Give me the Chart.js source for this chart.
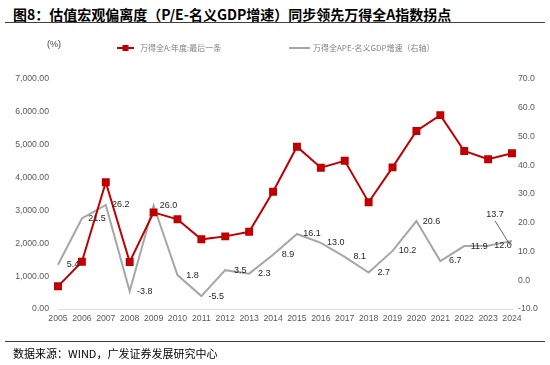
<!DOCTYPE html>
<html>
<head>
<meta charset="utf-8">
<script src="https://cdn.jsdelivr.net/npm/chart.js@4"></script>
<style>
  body { margin: 0; background: #fff; }
  #wrap { position: relative; width: 550px; height: 365px; overflow: hidden; }
  #title { position: absolute; left: 13px; top: 4px; font: bold 14px "Noto Sans CJK SC", sans-serif; color: #000; white-space: nowrap; }
  #topline { position: absolute; left: 5px; top: 22px; width: 540px; height: 1px; background: #404040; }
  #botline { position: absolute; left: 5px; top: 341px; width: 540px; height: 1px; background: #404040; }
  #source { position: absolute; left: 13px; top: 345px; font: 11px "Noto Sans CJK SC", sans-serif; color: #000; white-space: nowrap; }
  canvas { position: absolute; left: 0; top: 0; }
</style>
</head>
<body>
<div id="wrap">
  <div id="title">图8：估值宏观偏离度（P/E-名义GDP增速）同步领先万得全A指数拐点</div>
  <div id="topline"></div>
  <canvas id="myChart" width="550" height="365"></canvas>
  <div id="botline"></div>
  <div id="source">数据来源：WIND，广发证券发展研究中心</div>
</div>
<script>
const years = ["2005","2006","2007","2008","2009","2010","2011","2012","2013","2014",
  "2015","2016","2017","2018","2019","2020","2021","2022","2023","2024"];

// 万得全A 年度收盘 (left axis)
const windA = [690, 1440, 3860, 1430, 2940, 2730, 2120, 2210, 2350, 3570,
  4940, 4300, 4510, 3250, 4310, 5420, 5900, 4810, 4560, 4740];

// 万得全A PE - 名义GDP增速 (right axis)
const peGap = [5.4, 21.5, 26.2, -3.8, 26.0, 1.8, -5.5, 3.5, 2.3, 8.9,
  16.1, 13.0, 8.1, 2.7, 10.2, 20.6, 6.7, 11.9, 12.0, 13.7];

const leftTicks = [0, 1000, 2000, 3000, 4000, 5000, 6000, 7000];
const rightTicks = [-10, 0, 10, 20, 30, 40, 50, 60, 70];

const redColor = "#C00000";
const grayColor = "#A6A6A6";
const tickFont = { family: "Liberation Sans, Arial, sans-serif", size: 8.7 };

// labels for the gray series, drawn beside each point
const grayLabels = {
  id: "grayLabels",
  afterDatasetsDraw(chart) {
    const ctx = chart.ctx;
    const meta = chart.getDatasetMeta(1);
    ctx.save();
    ctx.font = "9px Liberation Sans, Arial, sans-serif";
    ctx.fillStyle = "#262626";
    ctx.textAlign = "center";
    ctx.textBaseline = "middle";
    meta.data.forEach(function (pt, i) {
      let dx = 15, dy = 0;
      if (i === peGap.length - 1) {
        dx = -17; dy = -26;
        ctx.strokeStyle = "#404040";
        ctx.lineWidth = 0.8;
        ctx.beginPath();
        ctx.moveTo(pt.x - 17, pt.y - 20);
        ctx.lineTo(pt.x - 2, pt.y + 4);
        ctx.stroke();
      }
      ctx.fillText(peGap[i].toFixed(1), pt.x + dx, pt.y + dy);
    });
    ctx.restore();
  }
};

// custom legend and unit label
const topLegend = {
  id: "topLegend",
  afterDraw(chart) {
    const ctx = chart.ctx;
    ctx.save();
    ctx.font = "9px Liberation Sans, Arial, sans-serif";
    ctx.fillStyle = "#404040";
    ctx.textBaseline = "middle";
    ctx.fillText("(%)", 47, 45);

    const y = 48;
    ctx.strokeStyle = redColor;
    ctx.lineWidth = 2;
    ctx.beginPath(); ctx.moveTo(117, y); ctx.lineTo(134, y); ctx.stroke();
    ctx.fillStyle = redColor;
    ctx.fillRect(122.5, y - 3, 6, 6);
    ctx.font = "8px Noto Sans CJK SC, sans-serif";
    ctx.fillStyle = "#808080";
    ctx.fillText("万得全A:年度:最后一条", 140, y);

    ctx.strokeStyle = grayColor;
    ctx.beginPath(); ctx.moveTo(289, y); ctx.lineTo(310, y); ctx.stroke();
    ctx.fillText("万得全APE-名义GDP增速（右轴）", 313, y);
    ctx.restore();
  }
};

const ctx = document.getElementById("myChart").getContext("2d");

new Chart(ctx, {
  type: "line",
  data: {
    labels: years,
    datasets: [
      {
        label: "万得全A:年度:最后一条",
        data: windA,
        yAxisID: "y",
        borderColor: redColor,
        backgroundColor: redColor,
        borderWidth: 2,
        pointStyle: "rect",
        pointRadius: 4.2,
        pointHoverRadius: 4.2,
        tension: 0,
      },
      {
        label: "万得全APE-名义GDP增速（右轴）",
        data: peGap,
        yAxisID: "y1",
        borderColor: grayColor,
        backgroundColor: grayColor,
        borderWidth: 2,
        pointRadius: 0,
        tension: 0,
      },
    ],
  },
  options: {
    responsive: false,
    animation: false,
    layout: { padding: { top: 79, bottom: 0, left: 0, right: 0 } },
    plugins: {
      legend: { display: false },
      tooltip: { enabled: false },
    },
    scales: {
      x: {
        offset: false,
        grid: { display: false, drawTicks: false },
        border: { display: true, color: "#D9D9D9", width: 1 },
        ticks: { font: tickFont, color: "#595959", maxRotation: 0, autoSkip: false, padding: 4 },
        afterFit(scale) { scale.height = 56; },
      },
      y: {
        position: "left",
        min: leftTicks[0],
        max: leftTicks[leftTicks.length - 1],
        afterBuildTicks(scale) { scale.ticks = leftTicks.map(v => ({ value: v })); },
        grid: { display: false, drawTicks: false },
        border: { display: false },
        ticks: {
          font: tickFont, color: "#595959", padding: 9,
          callback: v => v.toLocaleString("en-US", { minimumFractionDigits: 2, maximumFractionDigits: 2 }),
        },
        afterFit(scale) { scale.width = 58; },
      },
      y1: {
        position: "right",
        min: rightTicks[0],
        max: rightTicks[rightTicks.length - 1],
        afterBuildTicks(scale) { scale.ticks = rightTicks.map(v => ({ value: v })); },
        grid: { display: false, drawTicks: false },
        border: { display: false },
        ticks: { font: tickFont, color: "#595959", padding: 6, callback: v => v.toFixed(1) },
        afterFit(scale) { scale.width = 38; },
      },
    },
  },
  plugins: [grayLabels, topLegend],
});
</script>
</body>
</html>
